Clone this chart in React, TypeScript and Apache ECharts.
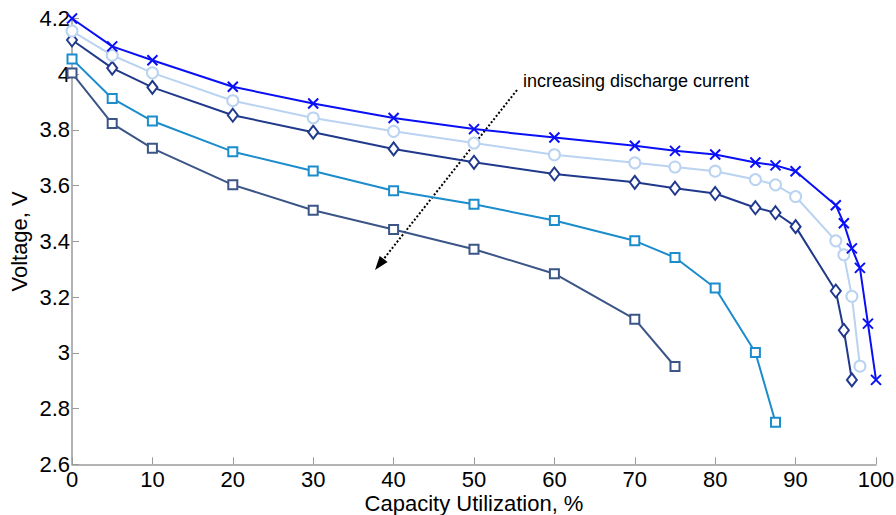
import React, { useEffect, useRef } from "react";
import * as echarts from "echarts";

const xTicks = [0, 10, 20, 30, 40, 50, 60, 70, 80, 90, 100];

const xA = [0, 5, 10, 20, 30, 40, 50, 60, 70, 75, 80, 85, 87.5, 90, 95, 96, 97, 98, 99, 100];
const yA = [4.2, 4.1, 4.05, 3.955, 3.895, 3.843, 3.803, 3.773, 3.743, 3.725, 3.712, 3.683, 3.673, 3.652, 3.53, 3.465, 3.375, 3.305, 3.105, 2.903];

const xB = [0, 5, 10, 20, 30, 40, 50, 60, 70, 75, 80, 85, 87.5, 90, 95, 96, 97, 98];
const yB = [4.155, 4.068, 4.005, 3.905, 3.843, 3.795, 3.753, 3.711, 3.682, 3.667, 3.652, 3.622, 3.603, 3.561, 3.402, 3.352, 3.203, 2.952];

const xC = [0, 5, 10, 20, 30, 40, 50, 60, 70, 75, 80, 85, 87.5, 90, 95, 96, 97];
const yC = [4.123, 4.022, 3.953, 3.853, 3.792, 3.732, 3.684, 3.642, 3.612, 3.591, 3.572, 3.521, 3.503, 3.453, 3.222, 3.081, 2.903];

const xD = [0, 5, 10, 20, 30, 40, 50, 60, 70, 75, 80, 85, 87.5];
const yD = [4.055, 3.913, 3.832, 3.722, 3.653, 3.582, 3.533, 3.475, 3.402, 3.342, 3.233, 3.001, 2.751];

const xE = [0, 5, 10, 20, 30, 40, 50, 60, 70, 75];
const yE = [4.004, 3.823, 3.734, 3.603, 3.512, 3.443, 3.372, 3.284, 3.121, 2.951];

const annotation = "increasing discharge current";

const pair = (xs: number[], ys: number[]) => xs.map((x, i) => [x, ys[i]]);

export default function App() {
  const ref = useRef<HTMLDivElement>(null);
  useEffect(() => {
    if (!ref.current) return;
    const chart = echarts.init(ref.current, null, { renderer: "svg" });
    const font = "Liberation Sans, Arial, sans-serif";
    const mk = (
      data: number[][],
      color: string,
      symbol: string,
      size: number | number[],
      z: number
    ) => ({
      type: "line",
      data,
      symbol,
      symbolSize: size,
      showAllSymbol: true,
      z,
      color,
      lineStyle: { color, width: 2 },
      itemStyle: { color, borderWidth: 2 },
    });
    const tipX = 375, tipY = 270;
    const sx = 517, sy = 90;
    const dx = tipX - sx, dy = tipY - sy;
    const len = Math.sqrt(dx * dx + dy * dy);
    const ux = dx / len, uy = dy / len;
    const bx = tipX - 14 * ux, by = tipY - 14 * uy;
    const px = -uy * 5, py = ux * 5;
    chart.setOption({
      animation: false,
      grid: {
        left: 72,
        right: 20,
        top: 18.5,
        bottom: 50.7,
        containLabel: false,
        outerBoundsMode: "none",
      },
      xAxis: {
        type: "value",
        min: 0,
        max: 100,
        interval: 10,
        name: "Capacity Utilization, %",
        nameLocation: "middle",
        nameGap: 28,
        nameMoveOverlap: false,
        nameTextStyle: { fontFamily: font, fontSize: 22, lineHeight: 22, color: "#000" },
        axisLine: { lineStyle: { color: "#9a9a9a", width: 1.5 } },
        axisTick: { inside: true, length: 7, lineStyle: { color: "#9a9a9a" } },
        axisLabel: { fontFamily: font, fontSize: 22, lineHeight: 22, color: "#000", margin: 4 },
        splitLine: { show: false },
      },
      yAxis: {
        type: "value",
        min: 2.6,
        max: 4.2,
        interval: 0.2,
        name: "Voltage, V",
        nameLocation: "middle",
        nameGap: 42,
        nameMoveOverlap: false,
        nameTextStyle: { fontFamily: font, fontSize: 22, color: "#000" },
        axisLine: { show: true, lineStyle: { color: "#9a9a9a", width: 1.5 } },
        axisTick: { show: true, inside: true, length: 7, lineStyle: { color: "#9a9a9a" } },
        axisLabel: {
          fontFamily: font,
          fontSize: 22,
          color: "#000",
          margin: 2,
          formatter: (v: number) => String(Math.round(v * 10) / 10),
        },
        splitLine: { show: false },
      },
      series: [
        mk(pair(xE, yE), "#3b5587", "emptyRect", 9, 2),
        mk(pair(xD, yD), "#1b8ccc", "emptyRect", 9, 3),
        mk(pair(xC, yC), "#21398c", "emptyDiamond", [10, 13], 4),
        mk(pair(xB, yB), "#b9d3f1", "emptyCircle", 11, 5),
        {
          ...mk(pair(xA, yA), "#0a10f5", "path://M0,0L10,10M10,0L0,10", 10, 6),
          itemStyle: { color: "#0a10f5", borderColor: "#0a10f5", borderWidth: 2 },
        },
      ],
      graphic: [
        {
          type: "line",
          shape: { x1: sx, y1: sy, x2: bx, y2: by },
          style: { stroke: "#000", lineWidth: 2, lineDash: [2, 2] },
        },
        {
          type: "polygon",
          shape: {
            points: [
              [tipX, tipY],
              [bx + px, by + py],
              [bx - px, by - py],
            ],
          },
          style: { fill: "#000" },
        },
        {
          type: "text",
          x: 523,
          y: 81,
          style: {
            text: annotation,
            fontFamily: font,
            fontSize: 18,
            fill: "#000",
            textVerticalAlign: "middle",
            textAlign: "left",
          },
        },
      ],
    });
    return () => chart.dispose();
  }, []);
  return <div ref={ref} style={{ width: 896, height: 515, position: "absolute", left: 0, top: 0 }} />;
}
